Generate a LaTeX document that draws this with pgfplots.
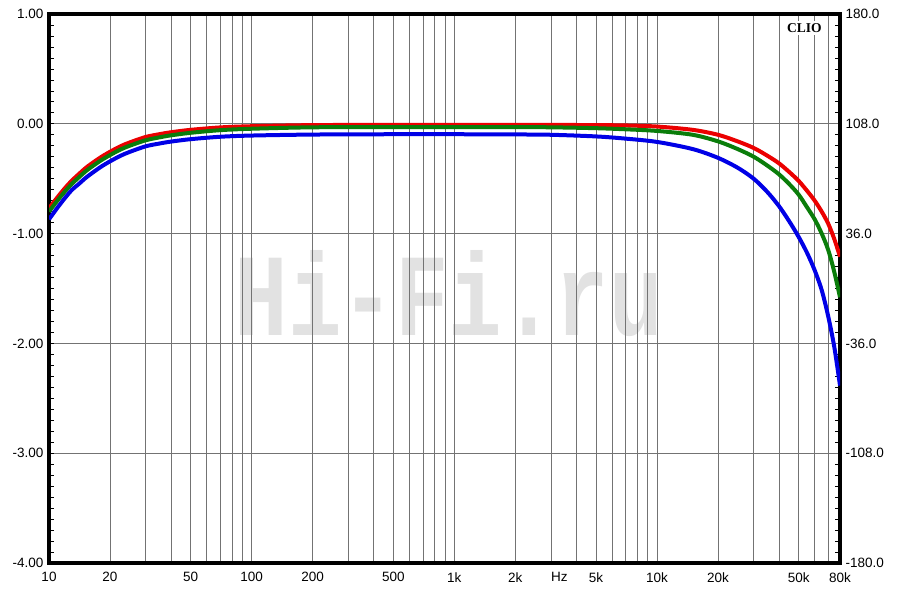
\documentclass[border=0pt]{standalone}
\usepackage{fontspec}
\setmainfont{Liberation Sans}
\newfontfamily\cliofont{Liberation Serif}
\newfontfamily\wmfont{Liberation Mono}
\usepackage{graphicx}
\usepackage{pgfplots}
\usepackage{pgfplotstable}
\pgfplotsset{compat=1.18}
\definecolor{cred}{RGB}{235,0,0}
\definecolor{cgreen}{RGB}{10,125,10}
\definecolor{cblue}{RGB}{0,0,230}
\definecolor{wm}{RGB}{226,226,226}

\pgfplotstableread{
f r g b
10 -0.77 -0.80 -0.87
11 -0.67 -0.70 -0.765
12 -0.585 -0.615 -0.675
13 -0.515 -0.545 -0.60
14 -0.46 -0.49 -0.55
15 -0.41 -0.44 -0.50
16 -0.37 -0.40 -0.46
18 -0.305 -0.335 -0.393
20 -0.255 -0.285 -0.342
22.5 -0.205 -0.235 -0.292
25 -0.17 -0.20 -0.256
30 -0.12 -0.15 -0.205
35 -0.095 -0.124 -0.18
40 -0.077 -0.105 -0.162
50 -0.055 -0.082 -0.14
70 -0.033 -0.058 -0.118
100 -0.022 -0.045 -0.107
200 -0.012 -0.032 -0.098
500 -0.01 -0.03 -0.095
1000 -0.01 -0.03 -0.095
2000 -0.01 -0.03 -0.097
3000 -0.01 -0.032 -0.10
5000 -0.012 -0.04 -0.115
7000 -0.015 -0.05 -0.135
10000 -0.025 -0.065 -0.165
15000 -0.055 -0.10 -0.23
20000 -0.10 -0.16 -0.31
25000 -0.16 -0.23 -0.40
30000 -0.22 -0.30 -0.50
35000 -0.29 -0.38 -0.62
40000 -0.36 -0.46 -0.75
45000 -0.44 -0.55 -0.89
50000 -0.52 -0.645 -1.03
55000 -0.61 -0.76 -1.175
60000 -0.70 -0.87 -1.334
65000 -0.80 -1.00 -1.515
70000 -0.91 -1.15 -1.755
75000 -1.05 -1.35 -2.034
80000 -1.21 -1.58 -2.384
}\datatab

\begin{document}
\begin{tikzpicture}
\useasboundingbox (0pt,0pt) rectangle (900pt,594pt);
% right (degree) axis with watermark
\begin{axis}[
  xmode=log, xmin=10, xmax=80000,
  scale only axis, width=791pt, height=549pt,
  at={(49pt,31pt)}, anchor=south west,
  axis line style={line width=3.4pt},
  tick label style={font=\fontsize{13.5}{16}\selectfont},
  tick align=inside,
  major tick length=5pt, minor tick length=5pt,
  tick style={black, line width=0.7pt},
  minor y tick num=9,
  ymin=-180, ymax=180,
  ytick pos=right,
  ytick={-180,-108,-36,36,108,180},
  yticklabels={-180.0,-108.0,-36.0,36.0,108.0,180.0},
  yticklabel style={anchor=west, xshift=2pt},
  xtick=\empty,
]
\node[text=wm, inner sep=0pt] at (axis cs:940,-3.6) {\resizebox{428pt}{85pt}{\wmfont\bfseries Hi-Fi.ru}};
\end{axis}
% left (dB) axis
\begin{axis}[
  xmode=log, xmin=10, xmax=80000,
  scale only axis, width=791pt, height=549pt,
  at={(49pt,31pt)}, anchor=south west,
  axis line style={line width=3.4pt},
  tick label style={font=\fontsize{13.5}{16}\selectfont},
  tick align=inside,
  major tick length=5pt, minor tick length=5pt,
  tick style={black, line width=0.7pt},
  minor y tick num=9,
  ymin=-4, ymax=1,
  ytick pos=left,
  ytick={-4,-3,-2,-1,0,1},
  yticklabels={-4.00,-3.00,-2.00,-1.00,0.00,1.00},
  yticklabel style={anchor=east, xshift=-2pt},
  xtick={10,20,30,40,50,60,70,80,90,100,200,300,400,500,600,700,800,900,1000,2000,3000,4000,5000,6000,7000,8000,9000,10000,20000,30000,40000,50000,60000,70000,80000},
  xticklabels={10,20,{},{},50,{},{},{},{},100,200,{},{},500,{},{},{},{},1k,2k,{},{},5k,{},{},{},{},10k,20k,{},{},50k,{},{},80k},
  extra x ticks={3300}, extra x tick labels={Hz},
  extra x tick style={grid=none},
  xtick style={draw=none},
  xticklabel style={yshift=-6pt},
  xmajorgrids, ymajorgrids,
  major grid style={black!55, line width=0.7pt},
]
\addplot[cred, line width=4pt, smooth] table[x=f,y=r]{\datatab};
\addplot[cgreen, line width=4pt, smooth] table[x=f,y=g]{\datatab};
\addplot[cblue, line width=4pt, smooth] table[x=f,y=b]{\datatab};
\node[fill=white, inner sep=2.5pt, font=\cliofont\bfseries\fontsize{13.5}{16}\selectfont] at (rel axis cs:0.955,0.975) {CLIO};
\node[anchor=east, font=\fontsize{13.5}{16}\selectfont] at ([xshift=-5pt]rel axis cs:0,0.9) {dBRel};
\node[anchor=west, font=\fontsize{13.5}{16}\selectfont] at ([xshift=6pt]rel axis cs:1,0.9) {Deg};
\end{axis}
\end{tikzpicture}
\end{document}
